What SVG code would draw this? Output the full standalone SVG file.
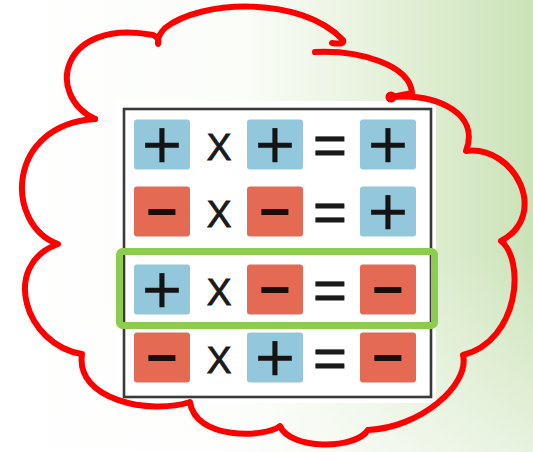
<svg xmlns="http://www.w3.org/2000/svg" width="533" height="452" viewBox="0 0 533 452">
  <defs>
    <linearGradient id="bgGrad" x1="0" y1="0" x2="1" y2="0">
      <stop offset="0" stop-color="#ffffff"/>
      <stop offset="0.45" stop-color="#fbfdf9"/>
      <stop offset="0.68" stop-color="#e9f3df"/>
      <stop offset="1" stop-color="#cbe3b8"/>
    </linearGradient>
    <linearGradient id="fadeGrad" x1="0" y1="0" x2="0" y2="1">
      <stop offset="0.55" stop-color="#ffffff" stop-opacity="0"/>
      <stop offset="1" stop-color="#ffffff" stop-opacity="0.55"/>
    </linearGradient>
    <style>
      .pos { fill: #93c7dc; }
      .neg { fill: #e56a53; }
      .plus { font-family: "DejaVu Sans", sans-serif; font-size: 53px; fill: #141414; stroke: #141414; stroke-width: 0.6; text-anchor: middle; }
      .minus { font-family: "Liberation Sans", Arial, sans-serif; font-weight: bold; font-size: 54px; fill: #1a0d0a; text-anchor: middle; }
      .opx { font-family: "Liberation Sans", Arial, sans-serif; font-size: 37px; fill: #1a1a1a; stroke: #1a1a1a; stroke-width: 0.9; text-anchor: middle; }
      .opeq { font-family: "Liberation Sans", Arial, sans-serif; font-size: 58px; fill: #1a1a1a; stroke: #1a1a1a; stroke-width: 0.8; text-anchor: middle; }
      .cloud { fill: none; stroke: #ff0000; stroke-width: 6; stroke-linecap: round; stroke-linejoin: round; }
    </style>
  </defs>

  <g id="background">
    <rect x="0" y="0" width="533" height="452" fill="url(#bgGrad)"/>
    <rect x="0" y="0" width="533" height="452" fill="url(#fadeGrad)"/>
    <rect x="116" y="101" width="320" height="302" fill="#ffffff"/>
  </g>

  <g id="cloud">
    <path class="cloud" d="M 95 119 C 45 95 60 18 153 35 Q 160 38 158 44 Q 157 36 165 28 C 200 0 300 -5 343 40 Q 345 45 332 43"/>
    <path class="cloud" d="M 315 52 C 360 50 410 65 412 93 L 392 97"/>
    <circle cx="391" cy="97" r="5.5" fill="#ff0000"/>
    <path class="cloud" d="M 390 97 C 440 93 480 115 466 151 C 515 145 550 215 501 241 C 525 260 520 340 463 355 C 470 385 420 428 368 430 C 355 450 290 450 280 426 C 265 438 195 440 190 402 C 150 415 75 400 82 354 C 25 345 0 265 58 244 C 5 225 5 125 95 119"/>
  </g>

  <g id="table">
    <rect x="124" y="109" width="307" height="288" fill="#ffffff" stroke="#3a3a3a" stroke-width="2.6"/>
  </g>

  <g id="row1">
    <g id="r1a"><rect class="pos" x="134" y="119.5" width="56" height="50" rx="3"/><text class="plus" x="162" y="162">+</text></g>
    <text class="opx" x="219" y="160">X</text>
    <g id="r1b"><rect class="pos" x="247" y="119.5" width="56" height="50" rx="3"/><text class="plus" x="275" y="162">+</text></g>
    <text class="opeq" x="330" y="165">=</text>
    <g id="r1c"><rect class="pos" x="360" y="119.5" width="56" height="50" rx="3"/><text class="plus" x="388" y="162">+</text></g>
  </g>

  <g id="row2">
    <g id="r2a"><rect class="neg" x="134" y="186.5" width="56" height="50" rx="3"/><text class="minus" x="162" y="230">−</text></g>
    <text class="opx" x="219" y="227">X</text>
    <g id="r2b"><rect class="neg" x="247" y="186.5" width="56" height="50" rx="3"/><text class="minus" x="275" y="230">−</text></g>
    <text class="opeq" x="330" y="232">=</text>
    <g id="r2c"><rect class="pos" x="360" y="186.5" width="56" height="50" rx="3"/><text class="plus" x="388" y="229">+</text></g>
  </g>

  <g id="row3">
    <g id="r3a"><rect class="pos" x="134" y="264.5" width="56" height="50" rx="3"/><text class="plus" x="162" y="307">+</text></g>
    <text class="opx" x="219" y="305">X</text>
    <g id="r3b"><rect class="neg" x="247" y="264.5" width="56" height="50" rx="3"/><text class="minus" x="275" y="308">−</text></g>
    <text class="opeq" x="330" y="310">=</text>
    <g id="r3c"><rect class="neg" x="360" y="264.5" width="56" height="50" rx="3"/><text class="minus" x="388" y="308">−</text></g>
  </g>

  <g id="row4">
    <g id="r4a"><rect class="neg" x="134" y="332.5" width="56" height="50" rx="3"/><text class="minus" x="162" y="376">−</text></g>
    <text class="opx" x="219" y="373">X</text>
    <g id="r4b"><rect class="pos" x="247" y="332.5" width="56" height="50" rx="3"/><text class="plus" x="275" y="375">+</text></g>
    <text class="opeq" x="330" y="378">=</text>
    <g id="r4c"><rect class="neg" x="360" y="332.5" width="56" height="50" rx="3"/><text class="minus" x="388" y="376">−</text></g>
  </g>

  <g id="highlight">
    <rect x="119.5" y="251.5" width="315" height="74" rx="3" fill="none" stroke="#8dcc4e" stroke-width="7"/>
  </g>
</svg>
